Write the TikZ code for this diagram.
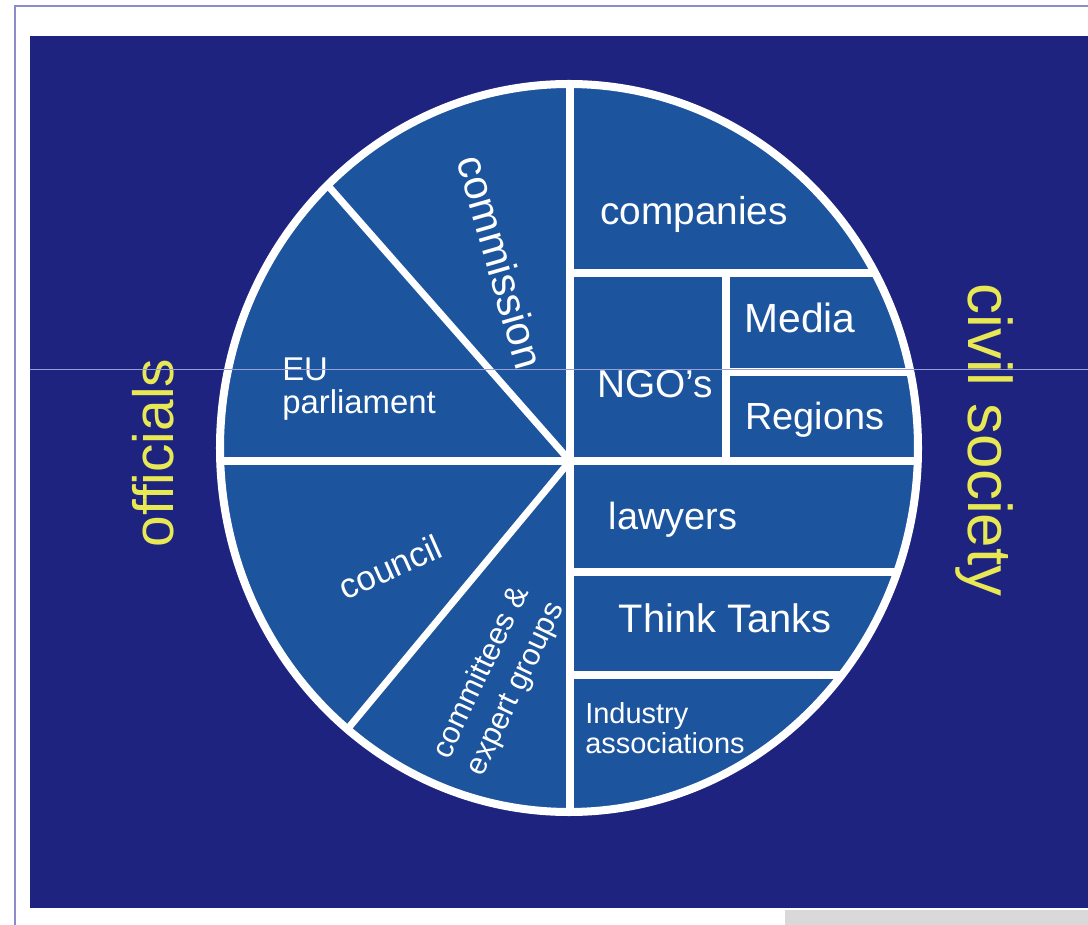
\documentclass[tikz,border=0pt]{standalone}
\usepackage{fontspec}
\setmainfont{Liberation Sans}
\definecolor{navybg}{RGB}{30,35,128}
\definecolor{pieblue}{RGB}{28,84,158}
\definecolor{sideyellow}{RGB}{232,232,84}
\definecolor{framelilac}{RGB}{140,140,200}
\definecolor{scanline}{RGB}{150,160,215}

\begin{document}
\begin{tikzpicture}[x=0.025cm, y=-0.025cm,
    divider/.style={white, line width=5pt},
    inlabel/.style={white, inner sep=0pt},
    sidelabel/.style={sideyellow, inner sep=0pt}]
  \useasboundingbox (0,0) rectangle (1088,925);
  \clip (0,0) rectangle (1088,925);
  \fill[white] (0,0) rectangle (1088,925);
  % Frame and backdrop
  \draw[framelilac, line width=1.4pt] (15,6) rectangle (1120,960);
  \fill[navybg] (30,36) rectangle (1120,908);
  \fill[gray!30] (785,910) rectangle (1088,925);
  % Pie body
  \fill[pieblue] (569,448) ellipse (349 and 364);
  \begin{scope}
    \clip (569,448) ellipse (349 and 364);
    \draw[divider] (570,60) -- (570,840);
    \draw[divider] (180,461) -- (960,461);
    \draw[divider] (570,461) -- (258,106);
    \draw[divider] (570,461) -- (287,802);
    % civil society boxes
    \draw[divider] (570,273) -- (960,273);
    \draw[divider] (726,273) -- (726,461);
    \draw[divider] (726,372) -- (960,372);
    \draw[divider] (570,572) -- (960,572);
    \draw[divider] (570,675) -- (960,675);
  \end{scope}
  \draw[white, line width=5.7pt] (569,448) ellipse (349 and 364);
  % Officials side
  \node[inlabel, rotate=-74, font=\fontsize{29.5pt}{34pt}\selectfont] (commission) at (501,262) {commission};
  \node[inlabel, anchor=north west, align=left, font=\fontsize{23.4pt}{23.4pt}\selectfont] (parliament) at (282,358) {EU\\parliament};
  \node[inlabel, rotate=24, font=\fontsize{24.8pt}{29pt}\selectfont] (council) at (390,567) {council};
  \node[inlabel, rotate=64.5, align=center, font=\fontsize{21.8pt}{27pt}\selectfont] (committees) at (499,681) {committees \&\\expert groups};
  % Civil society side
  \node[inlabel, anchor=base, font=\fontsize{27.6pt}{33pt}\selectfont] (companies) at (694,225) {companies};
  \node[inlabel, anchor=base, font=\fontsize{29pt}{34pt}\selectfont] (media) at (800,333) {Media};
  \node[inlabel, anchor=base, font=\fontsize{27.6pt}{33pt}\selectfont] (ngos) at (655,398) {NGO's};
  \node[inlabel, anchor=base, font=\fontsize{26.9pt}{32pt}\selectfont] (regions) at (815,430) {Regions};
  \node[inlabel, anchor=base, font=\fontsize{26.9pt}{32pt}\selectfont] (lawyers) at (673,530) {lawyers};
  \node[inlabel, anchor=base, font=\fontsize{28.3pt}{34pt}\selectfont] (thinktanks) at (725,632) {Think Tanks};
  \node[inlabel, anchor=north west, align=left, font=\fontsize{20.6pt}{21.3pt}\selectfont] (industry) at (585,702) {Industry\\associations};
  % Group titles
  \node[sidelabel, rotate=90, font=\fontsize{40.4pt}{48pt}\selectfont] (officials) at (153,453) {officials};
  \node[sidelabel, rotate=-90, font=\fontsize{44pt}{52pt}\selectfont] (civil) at (984,440) {civil society};
  % scan line
  \draw[scanline, line width=0.7pt] (30,369) -- (1088,369);
\end{tikzpicture}
\end{document}
